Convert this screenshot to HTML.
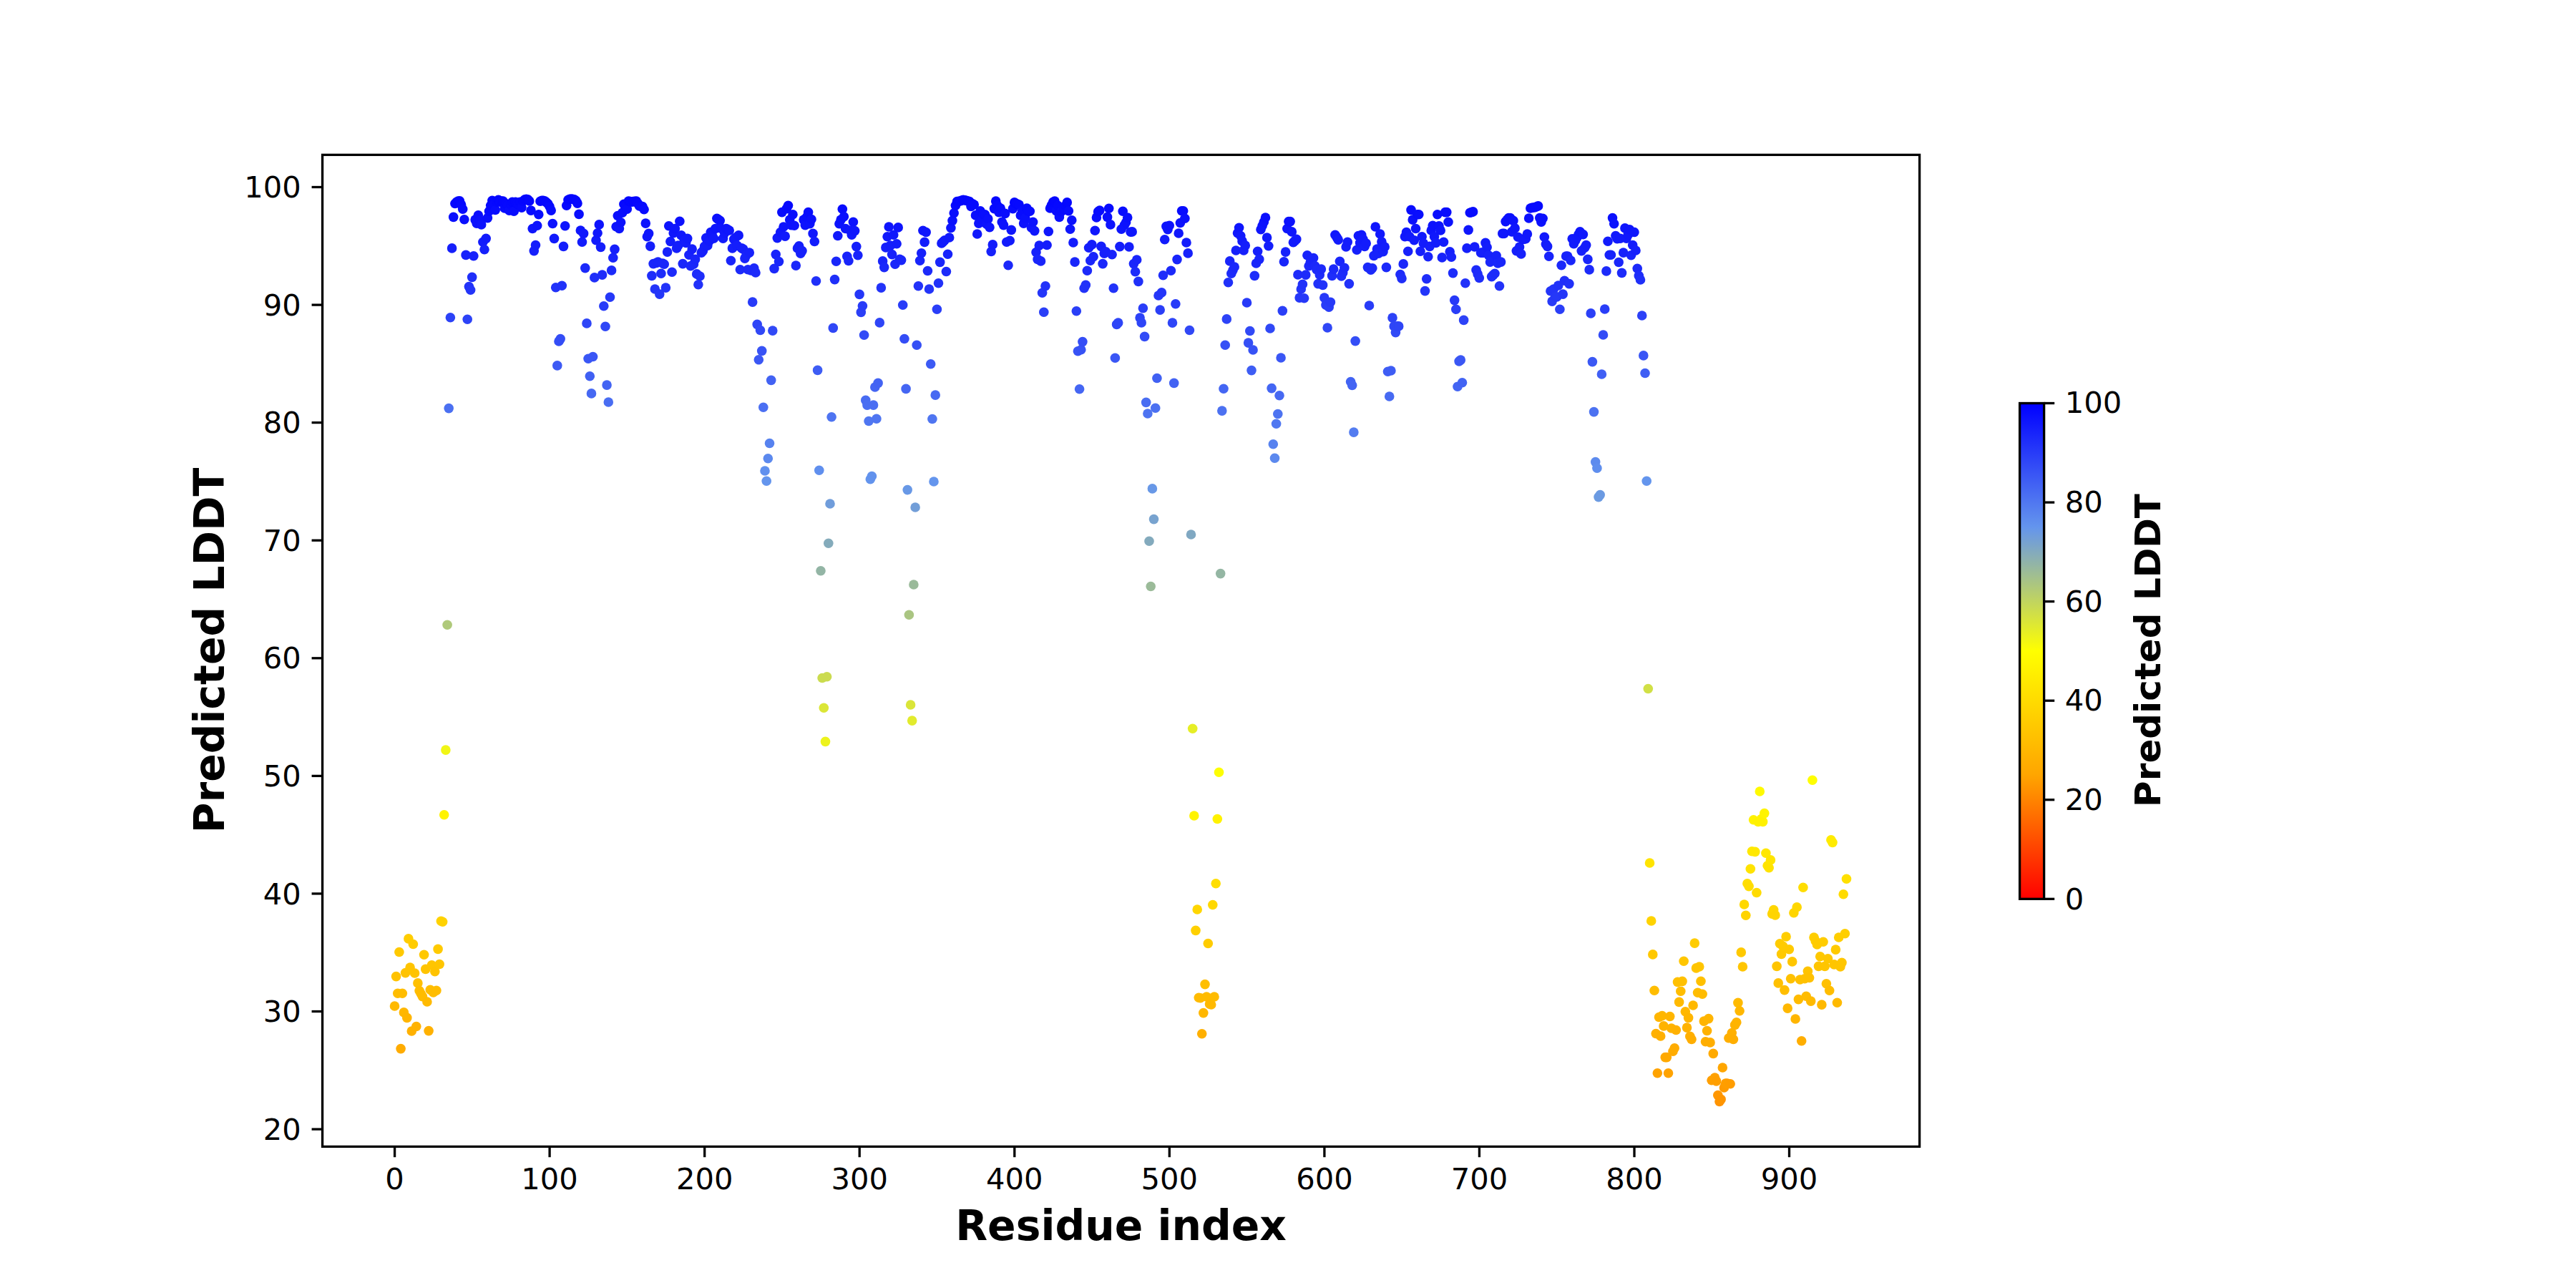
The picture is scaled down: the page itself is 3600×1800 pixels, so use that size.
<!DOCTYPE html>
<html><head><meta charset="utf-8"><title>Predicted LDDT</title>
<style>
html,body{margin:0;padding:0;background:#fff;}
body{width:3600px;height:1800px;overflow:hidden;}
svg{display:block;}
text{font-family:"DejaVu Sans","Liberation Sans",sans-serif;fill:#000;}
.t{font-size:41.67px;}
.b{font-weight:bold;}
</style></head><body>
<svg width="3600" height="1800" viewBox="0 0 3600 1800">
<defs><linearGradient id="g" x1="0" y1="1" x2="0" y2="0">
<stop offset="0" stop-color="#ff0000"/><stop offset="0.25" stop-color="#ffa500"/><stop offset="0.5" stop-color="#ffff00"/><stop offset="0.75" stop-color="#6495ed"/><stop offset="1" stop-color="#0000ff"/>
</linearGradient></defs>
<rect width="3600" height="1800" fill="#fff"/>

<g>
<circle cx="551.5" cy="1406.0" r="6.8" fill="#ffb900"/>
<circle cx="553.6" cy="1364.6" r="6.8" fill="#ffc200"/>
<circle cx="555.8" cy="1388.3" r="6.8" fill="#ffbd00"/>
<circle cx="557.9" cy="1330.5" r="6.8" fill="#ffc900"/>
<circle cx="560.1" cy="1465.6" r="6.8" fill="#ffac00"/>
<circle cx="562.3" cy="1388.3" r="6.8" fill="#ffbd00"/>
<circle cx="564.4" cy="1414.9" r="6.8" fill="#ffb700"/>
<circle cx="566.6" cy="1359.6" r="6.8" fill="#ffc300"/>
<circle cx="568.8" cy="1422.4" r="6.8" fill="#ffb500"/>
<circle cx="570.9" cy="1311.9" r="6.8" fill="#ffcd00"/>
<circle cx="573.1" cy="1352.1" r="6.8" fill="#ffc400"/>
<circle cx="575.3" cy="1441.0" r="6.8" fill="#ffb100"/>
<circle cx="577.4" cy="1319.5" r="6.8" fill="#ffcc00"/>
<circle cx="579.6" cy="1360.0" r="6.8" fill="#ffc300"/>
<circle cx="581.8" cy="1434.5" r="6.8" fill="#ffb200"/>
<circle cx="583.9" cy="1373.9" r="6.8" fill="#ffc000"/>
<circle cx="586.1" cy="1384.6" r="6.8" fill="#ffbd00"/>
<circle cx="588.3" cy="1388.8" r="6.8" fill="#ffbc00"/>
<circle cx="590.4" cy="1392.6" r="6.8" fill="#ffbc00"/>
<circle cx="592.6" cy="1334.2" r="6.8" fill="#ffc800"/>
<circle cx="594.8" cy="1354.4" r="6.8" fill="#ffc400"/>
<circle cx="596.9" cy="1400.0" r="6.8" fill="#ffba00"/>
<circle cx="599.1" cy="1440.6" r="6.8" fill="#ffb100"/>
<circle cx="601.3" cy="1383.2" r="6.8" fill="#ffbe00"/>
<circle cx="603.4" cy="1348.8" r="6.8" fill="#ffc500"/>
<circle cx="605.6" cy="1387.0" r="6.8" fill="#ffbd00"/>
<circle cx="607.8" cy="1357.7" r="6.8" fill="#ffc300"/>
<circle cx="609.9" cy="1384.2" r="6.8" fill="#ffbd00"/>
<circle cx="612.1" cy="1326.4" r="6.8" fill="#ffca00"/>
<circle cx="614.2" cy="1347.5" r="6.8" fill="#ffc500"/>
<circle cx="616.4" cy="1287.3" r="6.8" fill="#ffd300"/>
<circle cx="618.6" cy="1288.2" r="6.8" fill="#ffd200"/>
<circle cx="620.7" cy="1138.8" r="6.8" fill="#fff300"/>
<circle cx="622.9" cy="1048.1" r="6.8" fill="#f1f615"/>
<circle cx="625.1" cy="873.2" r="6.8" fill="#afc97a"/>
<circle cx="627.2" cy="570.6" r="6.8" fill="#4b70f1"/>
<circle cx="629.4" cy="443.7" r="6.8" fill="#2c42f7"/>
<circle cx="631.6" cy="346.9" r="6.8" fill="#151ffb"/>
<circle cx="633.7" cy="303.4" r="6.8" fill="#0a0ffd"/>
<circle cx="635.9" cy="284.5" r="6.8" fill="#0608fe"/>
<circle cx="638.1" cy="282.3" r="6.8" fill="#0508fe"/>
<circle cx="640.2" cy="281.0" r="6.8" fill="#0507fe"/>
<circle cx="642.4" cy="280.8" r="6.8" fill="#0507fe"/>
<circle cx="644.6" cy="286.0" r="6.8" fill="#0609fe"/>
<circle cx="646.7" cy="292.2" r="6.8" fill="#070bfe"/>
<circle cx="648.9" cy="306.7" r="6.8" fill="#0b10fd"/>
<circle cx="651.1" cy="356.4" r="6.8" fill="#1722fb"/>
<circle cx="653.2" cy="446.3" r="6.8" fill="#2d43f7"/>
<circle cx="655.4" cy="400.6" r="6.8" fill="#2232f9"/>
<circle cx="657.6" cy="405.2" r="6.8" fill="#2334f9"/>
<circle cx="659.7" cy="387.4" r="6.8" fill="#1f2ef9"/>
<circle cx="661.9" cy="357.8" r="6.8" fill="#1723fb"/>
<circle cx="664.1" cy="307.1" r="6.8" fill="#0b11fd"/>
<circle cx="666.2" cy="312.1" r="6.8" fill="#0c12fd"/>
<circle cx="668.4" cy="300.9" r="6.8" fill="#0a0efd"/>
<circle cx="670.6" cy="308.4" r="6.8" fill="#0b11fd"/>
<circle cx="672.7" cy="313.9" r="6.8" fill="#0d13fd"/>
<circle cx="674.9" cy="338.2" r="6.8" fill="#131cfc"/>
<circle cx="677.0" cy="348.7" r="6.8" fill="#1520fb"/>
<circle cx="679.2" cy="333.4" r="6.8" fill="#111afc"/>
<circle cx="681.4" cy="304.6" r="6.8" fill="#0a10fd"/>
<circle cx="683.5" cy="295.3" r="6.8" fill="#080cfe"/>
<circle cx="685.7" cy="287.2" r="6.8" fill="#0609fe"/>
<circle cx="687.9" cy="280.4" r="6.8" fill="#0507fe"/>
<circle cx="690.0" cy="286.0" r="6.8" fill="#0609fe"/>
<circle cx="692.2" cy="293.4" r="6.8" fill="#080cfe"/>
<circle cx="694.4" cy="282.3" r="6.8" fill="#0508fe"/>
<circle cx="696.5" cy="279.2" r="6.8" fill="#0406fe"/>
<circle cx="698.7" cy="282.3" r="6.8" fill="#0508fe"/>
<circle cx="700.9" cy="281.0" r="6.8" fill="#0507fe"/>
<circle cx="703.0" cy="281.0" r="6.8" fill="#0507fe"/>
<circle cx="705.2" cy="291.0" r="6.8" fill="#070bfe"/>
<circle cx="707.4" cy="284.8" r="6.8" fill="#0608fe"/>
<circle cx="709.5" cy="287.2" r="6.8" fill="#0609fe"/>
<circle cx="711.7" cy="294.1" r="6.8" fill="#080cfe"/>
<circle cx="713.9" cy="286.0" r="6.8" fill="#0609fe"/>
<circle cx="716.0" cy="282.3" r="6.8" fill="#0508fe"/>
<circle cx="718.2" cy="295.3" r="6.8" fill="#080cfe"/>
<circle cx="720.4" cy="282.3" r="6.8" fill="#0508fe"/>
<circle cx="722.5" cy="284.8" r="6.8" fill="#0608fe"/>
<circle cx="724.7" cy="286.0" r="6.8" fill="#0609fe"/>
<circle cx="726.9" cy="282.3" r="6.8" fill="#0508fe"/>
<circle cx="729.0" cy="290.3" r="6.8" fill="#070afe"/>
<circle cx="731.2" cy="281.0" r="6.8" fill="#0507fe"/>
<circle cx="733.4" cy="278.8" r="6.8" fill="#0406fe"/>
<circle cx="735.5" cy="278.3" r="6.8" fill="#0406fe"/>
<circle cx="737.7" cy="278.8" r="6.8" fill="#0406fe"/>
<circle cx="739.8" cy="281.0" r="6.8" fill="#0507fe"/>
<circle cx="742.0" cy="294.1" r="6.8" fill="#080cfe"/>
<circle cx="744.2" cy="319.5" r="6.8" fill="#0e15fc"/>
<circle cx="746.3" cy="350.6" r="6.8" fill="#1620fb"/>
<circle cx="748.5" cy="342.5" r="6.8" fill="#141dfb"/>
<circle cx="750.7" cy="315.2" r="6.8" fill="#0d13fd"/>
<circle cx="752.8" cy="299.7" r="6.8" fill="#090efd"/>
<circle cx="755.0" cy="281.3" r="6.8" fill="#0507fe"/>
<circle cx="757.2" cy="280.4" r="6.8" fill="#0507fe"/>
<circle cx="759.3" cy="280.4" r="6.8" fill="#0507fe"/>
<circle cx="761.5" cy="281.0" r="6.8" fill="#0507fe"/>
<circle cx="763.7" cy="282.9" r="6.8" fill="#0508fe"/>
<circle cx="765.8" cy="284.8" r="6.8" fill="#0608fe"/>
<circle cx="768.0" cy="288.5" r="6.8" fill="#070afe"/>
<circle cx="770.2" cy="294.1" r="6.8" fill="#080cfe"/>
<circle cx="772.3" cy="312.5" r="6.8" fill="#0c12fd"/>
<circle cx="774.5" cy="333.4" r="6.8" fill="#111afc"/>
<circle cx="776.7" cy="401.8" r="6.8" fill="#2233f9"/>
<circle cx="778.8" cy="510.9" r="6.8" fill="#3d5af4"/>
<circle cx="781.0" cy="477.0" r="6.8" fill="#344ef6"/>
<circle cx="783.2" cy="473.6" r="6.8" fill="#344df6"/>
<circle cx="785.3" cy="399.3" r="6.8" fill="#2132f9"/>
<circle cx="787.5" cy="344.4" r="6.8" fill="#141efb"/>
<circle cx="789.7" cy="315.8" r="6.8" fill="#0d14fd"/>
<circle cx="791.8" cy="287.2" r="6.8" fill="#0609fe"/>
<circle cx="794.0" cy="279.2" r="6.8" fill="#0406fe"/>
<circle cx="796.2" cy="278.3" r="6.8" fill="#0406fe"/>
<circle cx="798.3" cy="278.0" r="6.8" fill="#0406fe"/>
<circle cx="800.5" cy="278.3" r="6.8" fill="#0406fe"/>
<circle cx="802.6" cy="278.8" r="6.8" fill="#0406fe"/>
<circle cx="804.8" cy="280.4" r="6.8" fill="#0507fe"/>
<circle cx="807.0" cy="284.1" r="6.8" fill="#0508fe"/>
<circle cx="809.1" cy="299.4" r="6.8" fill="#090efd"/>
<circle cx="811.3" cy="322.0" r="6.8" fill="#0f16fc"/>
<circle cx="813.5" cy="338.2" r="6.8" fill="#131cfc"/>
<circle cx="815.6" cy="326.4" r="6.8" fill="#1018fc"/>
<circle cx="817.8" cy="374.6" r="6.8" fill="#1b29fa"/>
<circle cx="820.0" cy="451.9" r="6.8" fill="#2e45f7"/>
<circle cx="822.1" cy="501.2" r="6.8" fill="#3a57f5"/>
<circle cx="824.3" cy="525.7" r="6.8" fill="#4060f3"/>
<circle cx="826.5" cy="549.9" r="6.8" fill="#4668f2"/>
<circle cx="828.6" cy="498.5" r="6.8" fill="#3a56f5"/>
<circle cx="830.8" cy="387.9" r="6.8" fill="#1f2ef9"/>
<circle cx="833.0" cy="335.7" r="6.8" fill="#121bfc"/>
<circle cx="835.1" cy="325.7" r="6.8" fill="#1017fc"/>
<circle cx="837.3" cy="313.9" r="6.8" fill="#0d13fd"/>
<circle cx="839.5" cy="345.4" r="6.8" fill="#141efb"/>
<circle cx="841.6" cy="384.1" r="6.8" fill="#1e2cfa"/>
<circle cx="843.8" cy="427.7" r="6.8" fill="#283cf8"/>
<circle cx="846.0" cy="456.2" r="6.8" fill="#2f47f6"/>
<circle cx="848.1" cy="538.1" r="6.8" fill="#4364f3"/>
<circle cx="850.3" cy="562.0" r="6.8" fill="#496df2"/>
<circle cx="852.5" cy="415.2" r="6.8" fill="#2538f8"/>
<circle cx="854.6" cy="377.9" r="6.8" fill="#1c2afa"/>
<circle cx="856.8" cy="360.3" r="6.8" fill="#1824fb"/>
<circle cx="859.0" cy="348.4" r="6.8" fill="#151ffb"/>
<circle cx="861.1" cy="316.8" r="6.8" fill="#0d14fd"/>
<circle cx="863.3" cy="301.5" r="6.8" fill="#0a0efd"/>
<circle cx="865.4" cy="319.5" r="6.8" fill="#0e15fc"/>
<circle cx="867.6" cy="310.8" r="6.8" fill="#0c12fd"/>
<circle cx="869.8" cy="297.2" r="6.8" fill="#090dfd"/>
<circle cx="871.9" cy="285.4" r="6.8" fill="#0609fe"/>
<circle cx="874.1" cy="288.8" r="6.8" fill="#070afe"/>
<circle cx="876.3" cy="292.2" r="6.8" fill="#070bfe"/>
<circle cx="878.4" cy="281.0" r="6.8" fill="#0507fe"/>
<circle cx="880.6" cy="281.6" r="6.8" fill="#0507fe"/>
<circle cx="882.8" cy="282.3" r="6.8" fill="#0508fe"/>
<circle cx="884.9" cy="281.6" r="6.8" fill="#0507fe"/>
<circle cx="887.1" cy="281.3" r="6.8" fill="#0507fe"/>
<circle cx="889.3" cy="281.0" r="6.8" fill="#0507fe"/>
<circle cx="891.4" cy="284.4" r="6.8" fill="#0608fe"/>
<circle cx="893.6" cy="287.9" r="6.8" fill="#060afe"/>
<circle cx="895.8" cy="288.2" r="6.8" fill="#060afe"/>
<circle cx="897.9" cy="288.5" r="6.8" fill="#070afe"/>
<circle cx="900.1" cy="292.8" r="6.8" fill="#080bfe"/>
<circle cx="902.3" cy="312.1" r="6.8" fill="#0c12fd"/>
<circle cx="904.4" cy="330.7" r="6.8" fill="#1119fc"/>
<circle cx="906.6" cy="326.4" r="6.8" fill="#1017fc"/>
<circle cx="908.8" cy="344.1" r="6.8" fill="#141efb"/>
<circle cx="910.9" cy="385.4" r="6.8" fill="#1e2dfa"/>
<circle cx="913.1" cy="368.6" r="6.8" fill="#1a27fa"/>
<circle cx="915.3" cy="404.0" r="6.8" fill="#2334f9"/>
<circle cx="917.4" cy="367.4" r="6.8" fill="#1a26fa"/>
<circle cx="919.6" cy="366.1" r="6.8" fill="#1926fa"/>
<circle cx="921.8" cy="411.1" r="6.8" fill="#2436f8"/>
<circle cx="923.9" cy="382.3" r="6.8" fill="#1d2cfa"/>
<circle cx="926.1" cy="368.0" r="6.8" fill="#1a27fa"/>
<circle cx="928.2" cy="369.2" r="6.8" fill="#1a27fa"/>
<circle cx="930.4" cy="402.1" r="6.8" fill="#2233f9"/>
<circle cx="932.6" cy="352.1" r="6.8" fill="#1621fb"/>
<circle cx="934.7" cy="315.8" r="6.8" fill="#0d14fd"/>
<circle cx="936.9" cy="337.5" r="6.8" fill="#121cfc"/>
<circle cx="939.1" cy="380.2" r="6.8" fill="#1d2bfa"/>
<circle cx="941.2" cy="325.7" r="6.8" fill="#1017fc"/>
<circle cx="943.4" cy="319.5" r="6.8" fill="#0e15fc"/>
<circle cx="945.6" cy="346.9" r="6.8" fill="#151ffb"/>
<circle cx="947.7" cy="343.1" r="6.8" fill="#141efb"/>
<circle cx="949.9" cy="309.2" r="6.8" fill="#0c11fd"/>
<circle cx="952.1" cy="328.9" r="6.8" fill="#1018fc"/>
<circle cx="954.2" cy="368.6" r="6.8" fill="#1a27fa"/>
<circle cx="956.4" cy="336.3" r="6.8" fill="#121bfc"/>
<circle cx="958.6" cy="339.4" r="6.8" fill="#131cfc"/>
<circle cx="960.7" cy="333.4" r="6.8" fill="#111afc"/>
<circle cx="962.9" cy="356.2" r="6.8" fill="#1722fb"/>
<circle cx="965.1" cy="371.7" r="6.8" fill="#1b28fa"/>
<circle cx="967.2" cy="348.1" r="6.8" fill="#151ffb"/>
<circle cx="969.4" cy="369.2" r="6.8" fill="#1a27fa"/>
<circle cx="971.6" cy="362.4" r="6.8" fill="#1925fb"/>
<circle cx="973.7" cy="382.9" r="6.8" fill="#1e2cfa"/>
<circle cx="975.9" cy="397.8" r="6.8" fill="#2131f9"/>
<circle cx="978.1" cy="386.0" r="6.8" fill="#1e2dfa"/>
<circle cx="980.2" cy="353.1" r="6.8" fill="#1621fb"/>
<circle cx="982.4" cy="350.6" r="6.8" fill="#1620fb"/>
<circle cx="984.6" cy="344.4" r="6.8" fill="#141efb"/>
<circle cx="986.7" cy="332.6" r="6.8" fill="#111afc"/>
<circle cx="988.9" cy="343.1" r="6.8" fill="#141efb"/>
<circle cx="991.0" cy="336.9" r="6.8" fill="#121bfc"/>
<circle cx="993.2" cy="324.5" r="6.8" fill="#0f17fc"/>
<circle cx="995.4" cy="328.9" r="6.8" fill="#1018fc"/>
<circle cx="997.5" cy="333.2" r="6.8" fill="#111afc"/>
<circle cx="999.7" cy="319.5" r="6.8" fill="#0e15fc"/>
<circle cx="1001.9" cy="305.2" r="6.8" fill="#0b10fd"/>
<circle cx="1004.0" cy="306.8" r="6.8" fill="#0b10fd"/>
<circle cx="1006.2" cy="308.4" r="6.8" fill="#0b11fd"/>
<circle cx="1008.4" cy="319.5" r="6.8" fill="#0e15fc"/>
<circle cx="1010.5" cy="333.2" r="6.8" fill="#111afc"/>
<circle cx="1012.7" cy="325.7" r="6.8" fill="#1017fc"/>
<circle cx="1014.9" cy="319.5" r="6.8" fill="#0e15fc"/>
<circle cx="1017.0" cy="320.8" r="6.8" fill="#0e15fc"/>
<circle cx="1019.2" cy="322.0" r="6.8" fill="#0f16fc"/>
<circle cx="1021.4" cy="364.3" r="6.8" fill="#1925fb"/>
<circle cx="1023.5" cy="346.9" r="6.8" fill="#151ffb"/>
<circle cx="1025.7" cy="334.4" r="6.8" fill="#121afc"/>
<circle cx="1027.9" cy="332.0" r="6.8" fill="#111afc"/>
<circle cx="1030.0" cy="343.1" r="6.8" fill="#141efb"/>
<circle cx="1032.2" cy="328.9" r="6.8" fill="#1018fc"/>
<circle cx="1034.4" cy="376.7" r="6.8" fill="#1c2afa"/>
<circle cx="1036.5" cy="346.9" r="6.8" fill="#151ffb"/>
<circle cx="1038.7" cy="348.1" r="6.8" fill="#151ffb"/>
<circle cx="1040.9" cy="361.1" r="6.8" fill="#1824fb"/>
<circle cx="1043.0" cy="356.8" r="6.8" fill="#1723fb"/>
<circle cx="1045.2" cy="376.7" r="6.8" fill="#1c2afa"/>
<circle cx="1047.3" cy="353.1" r="6.8" fill="#1621fb"/>
<circle cx="1049.5" cy="377.9" r="6.8" fill="#1c2afa"/>
<circle cx="1051.7" cy="422.1" r="6.8" fill="#273af8"/>
<circle cx="1053.8" cy="374.8" r="6.8" fill="#1c29fa"/>
<circle cx="1056.0" cy="381.0" r="6.8" fill="#1d2bfa"/>
<circle cx="1058.2" cy="453.4" r="6.8" fill="#2f45f7"/>
<circle cx="1060.3" cy="502.8" r="6.8" fill="#3b57f4"/>
<circle cx="1062.5" cy="461.5" r="6.8" fill="#3148f6"/>
<circle cx="1064.7" cy="490.4" r="6.8" fill="#3853f5"/>
<circle cx="1066.8" cy="569.3" r="6.8" fill="#4b6ff2"/>
<circle cx="1069.0" cy="658.0" r="6.8" fill="#6090ee"/>
<circle cx="1071.2" cy="672.2" r="6.8" fill="#6495ed"/>
<circle cx="1073.3" cy="640.7" r="6.8" fill="#5c89ee"/>
<circle cx="1075.5" cy="619.5" r="6.8" fill="#5782ef"/>
<circle cx="1077.7" cy="531.4" r="6.8" fill="#4262f3"/>
<circle cx="1079.8" cy="462.1" r="6.8" fill="#3149f6"/>
<circle cx="1082.0" cy="375.4" r="6.8" fill="#1c29fa"/>
<circle cx="1084.2" cy="355.6" r="6.8" fill="#1722fb"/>
<circle cx="1086.3" cy="332.6" r="6.8" fill="#111afc"/>
<circle cx="1088.5" cy="365.5" r="6.8" fill="#1926fa"/>
<circle cx="1090.7" cy="324.5" r="6.8" fill="#0f17fc"/>
<circle cx="1092.8" cy="296.6" r="6.8" fill="#090dfd"/>
<circle cx="1095.0" cy="317.0" r="6.8" fill="#0e14fd"/>
<circle cx="1097.2" cy="330.1" r="6.8" fill="#1119fc"/>
<circle cx="1099.3" cy="291.6" r="6.8" fill="#070bfe"/>
<circle cx="1101.5" cy="287.2" r="6.8" fill="#0609fe"/>
<circle cx="1103.7" cy="307.1" r="6.8" fill="#0b11fd"/>
<circle cx="1105.8" cy="314.6" r="6.8" fill="#0d13fd"/>
<circle cx="1108.0" cy="299.7" r="6.8" fill="#090efd"/>
<circle cx="1110.1" cy="315.2" r="6.8" fill="#0d13fd"/>
<circle cx="1112.3" cy="371.1" r="6.8" fill="#1b28fa"/>
<circle cx="1114.5" cy="346.9" r="6.8" fill="#151ffb"/>
<circle cx="1116.6" cy="343.8" r="6.8" fill="#141efb"/>
<circle cx="1118.8" cy="354.3" r="6.8" fill="#1722fb"/>
<circle cx="1121.0" cy="350.6" r="6.8" fill="#1620fb"/>
<circle cx="1123.1" cy="307.1" r="6.8" fill="#0b11fd"/>
<circle cx="1125.3" cy="314.6" r="6.8" fill="#0d13fd"/>
<circle cx="1127.5" cy="303.4" r="6.8" fill="#0a0ffd"/>
<circle cx="1129.6" cy="296.6" r="6.8" fill="#090dfd"/>
<circle cx="1131.8" cy="312.7" r="6.8" fill="#0c13fd"/>
<circle cx="1134.0" cy="306.5" r="6.8" fill="#0b10fd"/>
<circle cx="1136.1" cy="326.4" r="6.8" fill="#1017fc"/>
<circle cx="1138.3" cy="337.5" r="6.8" fill="#121cfc"/>
<circle cx="1140.5" cy="392.8" r="6.8" fill="#2030f9"/>
<circle cx="1142.6" cy="517.4" r="6.8" fill="#3e5df4"/>
<circle cx="1144.8" cy="657.3" r="6.8" fill="#608fee"/>
<circle cx="1147.0" cy="797.7" r="6.8" fill="#93b5a5"/>
<circle cx="1149.1" cy="947.5" r="6.8" fill="#cbdc4f"/>
<circle cx="1151.3" cy="989.2" r="6.8" fill="#dbe637"/>
<circle cx="1153.5" cy="1036.4" r="6.8" fill="#edf31c"/>
<circle cx="1155.6" cy="945.7" r="6.8" fill="#cbdb50"/>
<circle cx="1157.8" cy="759.2" r="6.8" fill="#84abbb"/>
<circle cx="1160.0" cy="704.0" r="6.8" fill="#709ddb"/>
<circle cx="1162.1" cy="582.8" r="6.8" fill="#4e74f1"/>
<circle cx="1164.3" cy="458.4" r="6.8" fill="#3047f6"/>
<circle cx="1166.5" cy="390.6" r="6.8" fill="#1f2ff9"/>
<circle cx="1168.6" cy="365.2" r="6.8" fill="#1926fa"/>
<circle cx="1170.8" cy="329.5" r="6.8" fill="#1119fc"/>
<circle cx="1172.9" cy="312.7" r="6.8" fill="#0c13fd"/>
<circle cx="1175.1" cy="307.1" r="6.8" fill="#0b11fd"/>
<circle cx="1177.3" cy="292.2" r="6.8" fill="#070bfe"/>
<circle cx="1179.4" cy="302.8" r="6.8" fill="#0a0ffd"/>
<circle cx="1181.6" cy="319.5" r="6.8" fill="#0e15fc"/>
<circle cx="1183.8" cy="358.3" r="6.8" fill="#1823fb"/>
<circle cx="1185.9" cy="364.5" r="6.8" fill="#1925fa"/>
<circle cx="1188.1" cy="322.0" r="6.8" fill="#0f16fc"/>
<circle cx="1190.3" cy="328.2" r="6.8" fill="#1018fc"/>
<circle cx="1192.4" cy="310.2" r="6.8" fill="#0c12fd"/>
<circle cx="1194.6" cy="322.6" r="6.8" fill="#0f16fc"/>
<circle cx="1196.8" cy="344.6" r="6.8" fill="#141efb"/>
<circle cx="1198.9" cy="356.8" r="6.8" fill="#1723fb"/>
<circle cx="1201.1" cy="411.4" r="6.8" fill="#2436f8"/>
<circle cx="1203.3" cy="436.4" r="6.8" fill="#2b3ff7"/>
<circle cx="1205.4" cy="427.5" r="6.8" fill="#283cf8"/>
<circle cx="1207.6" cy="468.3" r="6.8" fill="#324bf6"/>
<circle cx="1209.8" cy="559.4" r="6.8" fill="#486cf2"/>
<circle cx="1211.9" cy="566.1" r="6.8" fill="#4a6ef2"/>
<circle cx="1214.1" cy="588.5" r="6.8" fill="#4f76f1"/>
<circle cx="1216.3" cy="669.7" r="6.8" fill="#6394ed"/>
<circle cx="1218.4" cy="665.5" r="6.8" fill="#6292ed"/>
<circle cx="1220.6" cy="566.1" r="6.8" fill="#4a6ef2"/>
<circle cx="1222.8" cy="541.0" r="6.8" fill="#4465f3"/>
<circle cx="1224.9" cy="585.2" r="6.8" fill="#4f75f1"/>
<circle cx="1227.1" cy="535.4" r="6.8" fill="#4363f3"/>
<circle cx="1229.3" cy="450.9" r="6.8" fill="#2e45f7"/>
<circle cx="1231.4" cy="402.1" r="6.8" fill="#2233f9"/>
<circle cx="1233.6" cy="364.9" r="6.8" fill="#1925fa"/>
<circle cx="1235.7" cy="373.6" r="6.8" fill="#1b29fa"/>
<circle cx="1237.9" cy="345.9" r="6.8" fill="#151ffb"/>
<circle cx="1240.1" cy="330.7" r="6.8" fill="#1119fc"/>
<circle cx="1242.2" cy="317.0" r="6.8" fill="#0e14fd"/>
<circle cx="1244.4" cy="343.1" r="6.8" fill="#141efb"/>
<circle cx="1246.6" cy="355.6" r="6.8" fill="#1722fb"/>
<circle cx="1248.7" cy="328.2" r="6.8" fill="#1018fc"/>
<circle cx="1250.9" cy="369.2" r="6.8" fill="#1a27fa"/>
<circle cx="1253.1" cy="340.7" r="6.8" fill="#131dfc"/>
<circle cx="1255.2" cy="317.9" r="6.8" fill="#0e14fd"/>
<circle cx="1257.4" cy="362.4" r="6.8" fill="#1925fb"/>
<circle cx="1259.6" cy="363.6" r="6.8" fill="#1925fb"/>
<circle cx="1261.7" cy="426.3" r="6.8" fill="#283cf8"/>
<circle cx="1263.9" cy="473.5" r="6.8" fill="#344df6"/>
<circle cx="1266.1" cy="543.4" r="6.8" fill="#4566f3"/>
<circle cx="1268.2" cy="684.6" r="6.8" fill="#6898e6"/>
<circle cx="1270.4" cy="859.3" r="6.8" fill="#aac582"/>
<circle cx="1272.6" cy="985.0" r="6.8" fill="#dae539"/>
<circle cx="1274.7" cy="1007.1" r="6.8" fill="#e2eb2d"/>
<circle cx="1276.9" cy="817.0" r="6.8" fill="#9aba9a"/>
<circle cx="1279.1" cy="709.0" r="6.8" fill="#729ed8"/>
<circle cx="1281.2" cy="482.2" r="6.8" fill="#3650f5"/>
<circle cx="1283.4" cy="399.7" r="6.8" fill="#2232f9"/>
<circle cx="1285.6" cy="364.3" r="6.8" fill="#1925fb"/>
<circle cx="1287.7" cy="353.7" r="6.8" fill="#1621fb"/>
<circle cx="1289.9" cy="322.3" r="6.8" fill="#0f16fc"/>
<circle cx="1292.1" cy="338.4" r="6.8" fill="#131cfc"/>
<circle cx="1294.2" cy="324.5" r="6.8" fill="#0f17fc"/>
<circle cx="1296.4" cy="378.5" r="6.8" fill="#1c2afa"/>
<circle cx="1298.5" cy="404.0" r="6.8" fill="#2334f9"/>
<circle cx="1300.7" cy="508.7" r="6.8" fill="#3c5af4"/>
<circle cx="1302.9" cy="585.5" r="6.8" fill="#4f75f1"/>
<circle cx="1305.0" cy="673.0" r="6.8" fill="#6495ed"/>
<circle cx="1307.2" cy="552.1" r="6.8" fill="#4769f2"/>
<circle cx="1309.4" cy="432.3" r="6.8" fill="#2a3ef8"/>
<circle cx="1311.5" cy="395.7" r="6.8" fill="#2131f9"/>
<circle cx="1313.7" cy="366.4" r="6.8" fill="#1926fa"/>
<circle cx="1315.9" cy="340.0" r="6.8" fill="#131cfc"/>
<circle cx="1318.0" cy="337.9" r="6.8" fill="#131cfc"/>
<circle cx="1320.2" cy="335.7" r="6.8" fill="#121bfc"/>
<circle cx="1322.4" cy="379.5" r="6.8" fill="#1d2bfa"/>
<circle cx="1324.5" cy="355.3" r="6.8" fill="#1722fb"/>
<circle cx="1326.7" cy="332.0" r="6.8" fill="#111afc"/>
<circle cx="1328.9" cy="318.5" r="6.8" fill="#0e15fd"/>
<circle cx="1331.0" cy="308.4" r="6.8" fill="#0b11fd"/>
<circle cx="1333.2" cy="297.8" r="6.8" fill="#090dfd"/>
<circle cx="1335.4" cy="287.2" r="6.8" fill="#0609fe"/>
<circle cx="1337.5" cy="281.6" r="6.8" fill="#0507fe"/>
<circle cx="1339.7" cy="281.3" r="6.8" fill="#0507fe"/>
<circle cx="1341.9" cy="281.0" r="6.8" fill="#0507fe"/>
<circle cx="1344.0" cy="280.1" r="6.8" fill="#0507fe"/>
<circle cx="1346.2" cy="279.2" r="6.8" fill="#0406fe"/>
<circle cx="1348.4" cy="279.8" r="6.8" fill="#0407fe"/>
<circle cx="1350.5" cy="280.4" r="6.8" fill="#0507fe"/>
<circle cx="1352.7" cy="281.0" r="6.8" fill="#0507fe"/>
<circle cx="1354.9" cy="281.6" r="6.8" fill="#0507fe"/>
<circle cx="1357.0" cy="288.5" r="6.8" fill="#070afe"/>
<circle cx="1359.2" cy="284.8" r="6.8" fill="#0608fe"/>
<circle cx="1361.3" cy="286.0" r="6.8" fill="#0609fe"/>
<circle cx="1363.5" cy="300.9" r="6.8" fill="#0a0efd"/>
<circle cx="1365.7" cy="327.0" r="6.8" fill="#1018fc"/>
<circle cx="1367.8" cy="312.1" r="6.8" fill="#0c12fd"/>
<circle cx="1370.0" cy="294.7" r="6.8" fill="#080cfe"/>
<circle cx="1372.2" cy="307.1" r="6.8" fill="#0b11fd"/>
<circle cx="1374.3" cy="299.7" r="6.8" fill="#090efd"/>
<circle cx="1376.5" cy="299.7" r="6.8" fill="#090efd"/>
<circle cx="1378.7" cy="313.3" r="6.8" fill="#0d13fd"/>
<circle cx="1380.8" cy="305.9" r="6.8" fill="#0b10fd"/>
<circle cx="1383.0" cy="317.7" r="6.8" fill="#0e14fd"/>
<circle cx="1385.2" cy="351.5" r="6.8" fill="#1621fb"/>
<circle cx="1387.3" cy="341.9" r="6.8" fill="#141dfb"/>
<circle cx="1389.5" cy="291.6" r="6.8" fill="#070bfe"/>
<circle cx="1391.7" cy="281.0" r="6.8" fill="#0507fe"/>
<circle cx="1393.8" cy="287.2" r="6.8" fill="#0609fe"/>
<circle cx="1396.0" cy="296.6" r="6.8" fill="#090dfd"/>
<circle cx="1398.2" cy="291.0" r="6.8" fill="#070bfe"/>
<circle cx="1400.3" cy="310.2" r="6.8" fill="#0c12fd"/>
<circle cx="1402.5" cy="314.6" r="6.8" fill="#0d13fd"/>
<circle cx="1404.7" cy="298.4" r="6.8" fill="#090dfd"/>
<circle cx="1406.8" cy="338.2" r="6.8" fill="#131cfc"/>
<circle cx="1409.0" cy="370.8" r="6.8" fill="#1b28fa"/>
<circle cx="1411.2" cy="336.3" r="6.8" fill="#121bfc"/>
<circle cx="1413.3" cy="321.4" r="6.8" fill="#0f16fc"/>
<circle cx="1415.5" cy="291.6" r="6.8" fill="#070bfe"/>
<circle cx="1417.7" cy="282.9" r="6.8" fill="#0508fe"/>
<circle cx="1419.8" cy="284.4" r="6.8" fill="#0608fe"/>
<circle cx="1422.0" cy="285.2" r="6.8" fill="#0609fe"/>
<circle cx="1424.1" cy="286.0" r="6.8" fill="#0609fe"/>
<circle cx="1426.3" cy="300.9" r="6.8" fill="#0a0efd"/>
<circle cx="1428.5" cy="294.7" r="6.8" fill="#080cfe"/>
<circle cx="1430.6" cy="312.1" r="6.8" fill="#0c12fd"/>
<circle cx="1432.8" cy="304.6" r="6.8" fill="#0a10fd"/>
<circle cx="1435.0" cy="291.0" r="6.8" fill="#070bfe"/>
<circle cx="1437.1" cy="295.3" r="6.8" fill="#080cfe"/>
<circle cx="1439.3" cy="295.3" r="6.8" fill="#080cfe"/>
<circle cx="1441.5" cy="318.3" r="6.8" fill="#0e15fd"/>
<circle cx="1443.6" cy="310.2" r="6.8" fill="#0c12fd"/>
<circle cx="1445.8" cy="322.6" r="6.8" fill="#0f16fc"/>
<circle cx="1448.0" cy="352.5" r="6.8" fill="#1621fb"/>
<circle cx="1450.1" cy="362.4" r="6.8" fill="#1925fb"/>
<circle cx="1452.3" cy="343.1" r="6.8" fill="#141efb"/>
<circle cx="1454.5" cy="364.9" r="6.8" fill="#1925fa"/>
<circle cx="1456.6" cy="409.3" r="6.8" fill="#2436f9"/>
<circle cx="1458.8" cy="436.2" r="6.8" fill="#2a3ff7"/>
<circle cx="1461.0" cy="399.7" r="6.8" fill="#2232f9"/>
<circle cx="1463.1" cy="342.5" r="6.8" fill="#141dfb"/>
<circle cx="1465.3" cy="323.5" r="6.8" fill="#0f16fc"/>
<circle cx="1467.5" cy="291.0" r="6.8" fill="#070bfe"/>
<circle cx="1469.6" cy="286.6" r="6.8" fill="#0609fe"/>
<circle cx="1471.8" cy="282.3" r="6.8" fill="#0508fe"/>
<circle cx="1474.0" cy="281.0" r="6.8" fill="#0507fe"/>
<circle cx="1476.1" cy="294.7" r="6.8" fill="#080cfe"/>
<circle cx="1478.3" cy="287.2" r="6.8" fill="#0609fe"/>
<circle cx="1480.4" cy="303.4" r="6.8" fill="#0a0ffd"/>
<circle cx="1482.6" cy="295.9" r="6.8" fill="#080cfd"/>
<circle cx="1484.8" cy="294.1" r="6.8" fill="#080cfe"/>
<circle cx="1486.9" cy="292.2" r="6.8" fill="#070bfe"/>
<circle cx="1489.1" cy="287.5" r="6.8" fill="#0609fe"/>
<circle cx="1491.3" cy="282.9" r="6.8" fill="#0508fe"/>
<circle cx="1493.4" cy="294.7" r="6.8" fill="#080cfe"/>
<circle cx="1495.6" cy="320.2" r="6.8" fill="#0e15fc"/>
<circle cx="1497.8" cy="307.7" r="6.8" fill="#0b11fd"/>
<circle cx="1499.9" cy="339.0" r="6.8" fill="#131cfc"/>
<circle cx="1502.1" cy="366.1" r="6.8" fill="#1926fa"/>
<circle cx="1504.3" cy="434.8" r="6.8" fill="#2a3ff7"/>
<circle cx="1506.4" cy="490.7" r="6.8" fill="#3853f5"/>
<circle cx="1508.6" cy="543.7" r="6.8" fill="#4566f3"/>
<circle cx="1510.8" cy="488.8" r="6.8" fill="#3752f5"/>
<circle cx="1512.9" cy="477.6" r="6.8" fill="#354ef6"/>
<circle cx="1515.1" cy="402.8" r="6.8" fill="#2233f9"/>
<circle cx="1517.3" cy="398.4" r="6.8" fill="#2132f9"/>
<circle cx="1519.4" cy="378.2" r="6.8" fill="#1c2afa"/>
<circle cx="1521.6" cy="346.2" r="6.8" fill="#151ffb"/>
<circle cx="1523.8" cy="364.3" r="6.8" fill="#1925fb"/>
<circle cx="1525.9" cy="341.9" r="6.8" fill="#141dfb"/>
<circle cx="1528.1" cy="358.7" r="6.8" fill="#1823fb"/>
<circle cx="1530.3" cy="322.3" r="6.8" fill="#0f16fc"/>
<circle cx="1532.4" cy="304.0" r="6.8" fill="#0a0ffd"/>
<circle cx="1534.6" cy="295.9" r="6.8" fill="#080cfd"/>
<circle cx="1536.8" cy="294.1" r="6.8" fill="#080cfe"/>
<circle cx="1538.9" cy="344.4" r="6.8" fill="#141efb"/>
<circle cx="1541.1" cy="368.6" r="6.8" fill="#1a27fa"/>
<circle cx="1543.2" cy="354.3" r="6.8" fill="#1722fb"/>
<circle cx="1545.4" cy="351.8" r="6.8" fill="#1621fb"/>
<circle cx="1547.6" cy="303.4" r="6.8" fill="#0a0ffd"/>
<circle cx="1549.7" cy="291.2" r="6.8" fill="#070bfe"/>
<circle cx="1551.9" cy="313.9" r="6.8" fill="#0d13fd"/>
<circle cx="1554.1" cy="355.8" r="6.8" fill="#1722fb"/>
<circle cx="1556.2" cy="402.8" r="6.8" fill="#2233f9"/>
<circle cx="1558.4" cy="500.3" r="6.8" fill="#3a56f5"/>
<circle cx="1560.6" cy="453.4" r="6.8" fill="#2f45f7"/>
<circle cx="1562.7" cy="451.1" r="6.8" fill="#2e45f7"/>
<circle cx="1564.9" cy="344.6" r="6.8" fill="#141efb"/>
<circle cx="1567.1" cy="320.2" r="6.8" fill="#0e15fc"/>
<circle cx="1569.2" cy="295.3" r="6.8" fill="#080cfe"/>
<circle cx="1571.4" cy="314.6" r="6.8" fill="#0d13fd"/>
<circle cx="1573.6" cy="310.8" r="6.8" fill="#0c12fd"/>
<circle cx="1575.7" cy="304.0" r="6.8" fill="#0a0ffd"/>
<circle cx="1577.9" cy="345.0" r="6.8" fill="#141efb"/>
<circle cx="1580.1" cy="324.3" r="6.8" fill="#0f17fc"/>
<circle cx="1582.2" cy="323.9" r="6.8" fill="#0f17fc"/>
<circle cx="1584.4" cy="368.6" r="6.8" fill="#1a27fa"/>
<circle cx="1586.6" cy="379.8" r="6.8" fill="#1d2bfa"/>
<circle cx="1588.7" cy="363.0" r="6.8" fill="#1925fb"/>
<circle cx="1590.9" cy="393.4" r="6.8" fill="#2030f9"/>
<circle cx="1593.1" cy="444.1" r="6.8" fill="#2c42f7"/>
<circle cx="1595.2" cy="450.9" r="6.8" fill="#2e45f7"/>
<circle cx="1597.4" cy="430.8" r="6.8" fill="#293df8"/>
<circle cx="1599.6" cy="470.4" r="6.8" fill="#334cf6"/>
<circle cx="1601.7" cy="562.4" r="6.8" fill="#496df2"/>
<circle cx="1603.9" cy="578.0" r="6.8" fill="#4d73f1"/>
<circle cx="1606.0" cy="756.2" r="6.8" fill="#83aabd"/>
<circle cx="1608.2" cy="819.5" r="6.8" fill="#9bbb99"/>
<circle cx="1610.4" cy="682.9" r="6.8" fill="#6898e7"/>
<circle cx="1612.5" cy="725.6" r="6.8" fill="#78a3cf"/>
<circle cx="1614.7" cy="570.3" r="6.8" fill="#4b70f1"/>
<circle cx="1616.9" cy="528.5" r="6.8" fill="#4161f3"/>
<circle cx="1619.0" cy="413.0" r="6.8" fill="#2537f8"/>
<circle cx="1621.2" cy="433.1" r="6.8" fill="#2a3ef7"/>
<circle cx="1623.4" cy="408.9" r="6.8" fill="#2435f9"/>
<circle cx="1625.5" cy="384.8" r="6.8" fill="#1e2dfa"/>
<circle cx="1627.7" cy="334.8" r="6.8" fill="#121bfc"/>
<circle cx="1629.9" cy="316.4" r="6.8" fill="#0d14fd"/>
<circle cx="1632.0" cy="320.8" r="6.8" fill="#0e15fc"/>
<circle cx="1634.2" cy="315.2" r="6.8" fill="#0d13fd"/>
<circle cx="1636.4" cy="378.2" r="6.8" fill="#1c2afa"/>
<circle cx="1638.5" cy="451.1" r="6.8" fill="#2e45f7"/>
<circle cx="1640.7" cy="535.4" r="6.8" fill="#4363f3"/>
<circle cx="1642.9" cy="424.8" r="6.8" fill="#283bf8"/>
<circle cx="1645.0" cy="362.6" r="6.8" fill="#1925fb"/>
<circle cx="1647.2" cy="326.0" r="6.8" fill="#1017fc"/>
<circle cx="1649.4" cy="311.5" r="6.8" fill="#0c12fd"/>
<circle cx="1651.5" cy="294.7" r="6.8" fill="#080cfe"/>
<circle cx="1653.7" cy="294.7" r="6.8" fill="#080cfe"/>
<circle cx="1655.9" cy="305.2" r="6.8" fill="#0b10fd"/>
<circle cx="1658.0" cy="339.0" r="6.8" fill="#131cfc"/>
<circle cx="1660.2" cy="353.9" r="6.8" fill="#1621fb"/>
<circle cx="1662.4" cy="461.5" r="6.8" fill="#3148f6"/>
<circle cx="1664.5" cy="747.0" r="6.8" fill="#80a8c2"/>
<circle cx="1666.7" cy="1018.3" r="6.8" fill="#e6ee26"/>
<circle cx="1668.8" cy="1140.0" r="6.8" fill="#fff300"/>
<circle cx="1671.0" cy="1300.4" r="6.8" fill="#ffd000"/>
<circle cx="1673.2" cy="1271.0" r="6.8" fill="#ffd600"/>
<circle cx="1675.3" cy="1394.2" r="6.8" fill="#ffbb00"/>
<circle cx="1677.5" cy="1394.7" r="6.8" fill="#ffbb00"/>
<circle cx="1679.7" cy="1444.7" r="6.8" fill="#ffb000"/>
<circle cx="1681.8" cy="1415.6" r="6.8" fill="#ffb700"/>
<circle cx="1684.0" cy="1375.6" r="6.8" fill="#ffbf00"/>
<circle cx="1686.2" cy="1393.0" r="6.8" fill="#ffbb00"/>
<circle cx="1688.3" cy="1318.5" r="6.8" fill="#ffcc00"/>
<circle cx="1690.5" cy="1403.1" r="6.8" fill="#ffb900"/>
<circle cx="1692.7" cy="1404.0" r="6.8" fill="#ffb900"/>
<circle cx="1694.8" cy="1264.5" r="6.8" fill="#ffd800"/>
<circle cx="1697.0" cy="1393.0" r="6.8" fill="#ffbb00"/>
<circle cx="1699.2" cy="1234.7" r="6.8" fill="#ffde00"/>
<circle cx="1701.3" cy="1144.5" r="6.8" fill="#fff200"/>
<circle cx="1703.5" cy="1079.2" r="6.8" fill="#fdfe03"/>
<circle cx="1705.7" cy="801.6" r="6.8" fill="#94b6a3"/>
<circle cx="1707.8" cy="574.1" r="6.8" fill="#4c71f1"/>
<circle cx="1710.0" cy="543.2" r="6.8" fill="#4466f3"/>
<circle cx="1712.2" cy="482.2" r="6.8" fill="#3650f5"/>
<circle cx="1714.3" cy="445.9" r="6.8" fill="#2d43f7"/>
<circle cx="1716.5" cy="394.7" r="6.8" fill="#2030f9"/>
<circle cx="1718.7" cy="364.9" r="6.8" fill="#1925fa"/>
<circle cx="1720.8" cy="382.3" r="6.8" fill="#1d2cfa"/>
<circle cx="1723.0" cy="377.6" r="6.8" fill="#1c2afa"/>
<circle cx="1725.2" cy="373.0" r="6.8" fill="#1b28fa"/>
<circle cx="1727.3" cy="350.0" r="6.8" fill="#1620fb"/>
<circle cx="1729.5" cy="325.7" r="6.8" fill="#1017fc"/>
<circle cx="1731.6" cy="318.3" r="6.8" fill="#0e15fd"/>
<circle cx="1733.8" cy="329.5" r="6.8" fill="#1119fc"/>
<circle cx="1736.0" cy="336.9" r="6.8" fill="#121bfc"/>
<circle cx="1738.1" cy="350.0" r="6.8" fill="#1620fb"/>
<circle cx="1740.3" cy="343.1" r="6.8" fill="#141efb"/>
<circle cx="1742.5" cy="423.0" r="6.8" fill="#273af8"/>
<circle cx="1744.6" cy="479.1" r="6.8" fill="#354ff5"/>
<circle cx="1746.8" cy="462.5" r="6.8" fill="#3149f6"/>
<circle cx="1749.0" cy="517.6" r="6.8" fill="#3e5df4"/>
<circle cx="1751.1" cy="489.0" r="6.8" fill="#3752f5"/>
<circle cx="1753.3" cy="385.4" r="6.8" fill="#1e2dfa"/>
<circle cx="1755.5" cy="368.0" r="6.8" fill="#1a27fa"/>
<circle cx="1757.6" cy="351.2" r="6.8" fill="#1620fb"/>
<circle cx="1759.8" cy="362.4" r="6.8" fill="#1925fb"/>
<circle cx="1762.0" cy="320.8" r="6.8" fill="#0e15fc"/>
<circle cx="1764.1" cy="315.5" r="6.8" fill="#0d14fd"/>
<circle cx="1766.3" cy="310.2" r="6.8" fill="#0c12fd"/>
<circle cx="1768.5" cy="304.0" r="6.8" fill="#0a0ffd"/>
<circle cx="1770.6" cy="332.0" r="6.8" fill="#111afc"/>
<circle cx="1772.8" cy="343.8" r="6.8" fill="#141efb"/>
<circle cx="1775.0" cy="459.0" r="6.8" fill="#3048f6"/>
<circle cx="1777.1" cy="542.6" r="6.8" fill="#4466f3"/>
<circle cx="1779.3" cy="620.8" r="6.8" fill="#5782ef"/>
<circle cx="1781.5" cy="640.2" r="6.8" fill="#5c89ee"/>
<circle cx="1783.6" cy="592.2" r="6.8" fill="#5078f1"/>
<circle cx="1785.8" cy="578.5" r="6.8" fill="#4d73f1"/>
<circle cx="1788.0" cy="552.8" r="6.8" fill="#4769f2"/>
<circle cx="1790.1" cy="500.0" r="6.8" fill="#3a56f5"/>
<circle cx="1792.3" cy="434.4" r="6.8" fill="#2a3ff7"/>
<circle cx="1794.4" cy="365.7" r="6.8" fill="#1926fa"/>
<circle cx="1796.6" cy="352.1" r="6.8" fill="#1621fb"/>
<circle cx="1798.8" cy="319.5" r="6.8" fill="#0e15fc"/>
<circle cx="1800.9" cy="309.6" r="6.8" fill="#0c11fd"/>
<circle cx="1803.1" cy="309.6" r="6.8" fill="#0c11fd"/>
<circle cx="1805.3" cy="323.9" r="6.8" fill="#0f17fc"/>
<circle cx="1807.4" cy="338.8" r="6.8" fill="#131cfc"/>
<circle cx="1809.6" cy="336.6" r="6.8" fill="#121bfc"/>
<circle cx="1811.8" cy="334.4" r="6.8" fill="#121afc"/>
<circle cx="1813.9" cy="383.9" r="6.8" fill="#1e2cfa"/>
<circle cx="1816.1" cy="416.1" r="6.8" fill="#2638f8"/>
<circle cx="1818.3" cy="404.0" r="6.8" fill="#2334f9"/>
<circle cx="1820.4" cy="397.2" r="6.8" fill="#2131f9"/>
<circle cx="1822.6" cy="416.7" r="6.8" fill="#2638f8"/>
<circle cx="1824.8" cy="384.1" r="6.8" fill="#1e2cfa"/>
<circle cx="1826.9" cy="356.8" r="6.8" fill="#1723fb"/>
<circle cx="1829.1" cy="371.7" r="6.8" fill="#1b28fa"/>
<circle cx="1831.3" cy="366.1" r="6.8" fill="#1926fa"/>
<circle cx="1833.4" cy="363.3" r="6.8" fill="#1925fb"/>
<circle cx="1835.6" cy="360.5" r="6.8" fill="#1824fb"/>
<circle cx="1837.8" cy="371.7" r="6.8" fill="#1b28fa"/>
<circle cx="1839.9" cy="376.7" r="6.8" fill="#1c2afa"/>
<circle cx="1842.1" cy="396.6" r="6.8" fill="#2131f9"/>
<circle cx="1844.3" cy="384.1" r="6.8" fill="#1e2cfa"/>
<circle cx="1846.4" cy="376.1" r="6.8" fill="#1c29fa"/>
<circle cx="1848.6" cy="398.4" r="6.8" fill="#2132f9"/>
<circle cx="1850.8" cy="416.1" r="6.8" fill="#2638f8"/>
<circle cx="1852.9" cy="426.1" r="6.8" fill="#283cf8"/>
<circle cx="1855.1" cy="458.0" r="6.8" fill="#3047f6"/>
<circle cx="1857.2" cy="429.2" r="6.8" fill="#293df8"/>
<circle cx="1859.4" cy="422.3" r="6.8" fill="#273af8"/>
<circle cx="1861.6" cy="385.4" r="6.8" fill="#1e2dfa"/>
<circle cx="1863.7" cy="376.1" r="6.8" fill="#1c29fa"/>
<circle cx="1865.9" cy="328.2" r="6.8" fill="#1018fc"/>
<circle cx="1868.1" cy="331.6" r="6.8" fill="#1119fc"/>
<circle cx="1870.2" cy="335.1" r="6.8" fill="#121bfc"/>
<circle cx="1872.4" cy="365.2" r="6.8" fill="#1926fa"/>
<circle cx="1874.6" cy="386.0" r="6.8" fill="#1e2dfa"/>
<circle cx="1876.7" cy="381.0" r="6.8" fill="#1d2bfa"/>
<circle cx="1878.9" cy="374.2" r="6.8" fill="#1b29fa"/>
<circle cx="1881.1" cy="345.0" r="6.8" fill="#141efb"/>
<circle cx="1883.2" cy="338.2" r="6.8" fill="#131cfc"/>
<circle cx="1885.4" cy="396.6" r="6.8" fill="#2131f9"/>
<circle cx="1887.6" cy="533.5" r="6.8" fill="#4263f3"/>
<circle cx="1889.7" cy="538.5" r="6.8" fill="#4364f3"/>
<circle cx="1891.9" cy="604.1" r="6.8" fill="#537cf0"/>
<circle cx="1894.1" cy="476.6" r="6.8" fill="#344ef6"/>
<circle cx="1896.2" cy="349.3" r="6.8" fill="#1520fb"/>
<circle cx="1898.4" cy="329.5" r="6.8" fill="#1119fc"/>
<circle cx="1900.6" cy="339.4" r="6.8" fill="#131cfc"/>
<circle cx="1902.7" cy="328.2" r="6.8" fill="#1018fc"/>
<circle cx="1904.9" cy="334.4" r="6.8" fill="#121afc"/>
<circle cx="1907.1" cy="344.4" r="6.8" fill="#141efb"/>
<circle cx="1909.2" cy="340.0" r="6.8" fill="#131cfc"/>
<circle cx="1911.4" cy="373.6" r="6.8" fill="#1b29fa"/>
<circle cx="1913.5" cy="427.0" r="6.8" fill="#283cf8"/>
<circle cx="1915.7" cy="377.3" r="6.8" fill="#1c2afa"/>
<circle cx="1917.9" cy="374.8" r="6.8" fill="#1c29fa"/>
<circle cx="1920.0" cy="357.4" r="6.8" fill="#1723fb"/>
<circle cx="1922.2" cy="317.0" r="6.8" fill="#0e14fd"/>
<circle cx="1924.4" cy="348.1" r="6.8" fill="#151ffb"/>
<circle cx="1926.5" cy="354.3" r="6.8" fill="#1722fb"/>
<circle cx="1928.7" cy="327.0" r="6.8" fill="#1018fc"/>
<circle cx="1930.9" cy="337.9" r="6.8" fill="#131cfc"/>
<circle cx="1933.0" cy="351.8" r="6.8" fill="#1621fb"/>
<circle cx="1935.2" cy="345.0" r="6.8" fill="#141efb"/>
<circle cx="1937.4" cy="373.6" r="6.8" fill="#1b29fa"/>
<circle cx="1939.5" cy="519.2" r="6.8" fill="#3f5df4"/>
<circle cx="1941.7" cy="554.0" r="6.8" fill="#476af2"/>
<circle cx="1943.9" cy="518.0" r="6.8" fill="#3e5df4"/>
<circle cx="1946.0" cy="444.1" r="6.8" fill="#2c42f7"/>
<circle cx="1948.2" cy="455.9" r="6.8" fill="#2f46f6"/>
<circle cx="1950.4" cy="464.6" r="6.8" fill="#314af6"/>
<circle cx="1952.5" cy="455.9" r="6.8" fill="#2f46f6"/>
<circle cx="1954.7" cy="455.9" r="6.8" fill="#2f46f6"/>
<circle cx="1956.9" cy="383.5" r="6.8" fill="#1e2cfa"/>
<circle cx="1959.0" cy="389.1" r="6.8" fill="#1f2ef9"/>
<circle cx="1961.2" cy="368.9" r="6.8" fill="#1a27fa"/>
<circle cx="1963.4" cy="330.7" r="6.8" fill="#1119fc"/>
<circle cx="1965.5" cy="324.5" r="6.8" fill="#0f17fc"/>
<circle cx="1967.7" cy="351.2" r="6.8" fill="#1620fb"/>
<circle cx="1969.9" cy="330.7" r="6.8" fill="#1119fc"/>
<circle cx="1972.0" cy="293.4" r="6.8" fill="#080cfe"/>
<circle cx="1974.2" cy="307.1" r="6.8" fill="#0b11fd"/>
<circle cx="1976.3" cy="335.7" r="6.8" fill="#121bfc"/>
<circle cx="1978.5" cy="319.5" r="6.8" fill="#0e15fc"/>
<circle cx="1980.7" cy="299.7" r="6.8" fill="#090efd"/>
<circle cx="1982.8" cy="299.7" r="6.8" fill="#090efd"/>
<circle cx="1985.0" cy="351.2" r="6.8" fill="#1620fb"/>
<circle cx="1987.2" cy="330.7" r="6.8" fill="#1119fc"/>
<circle cx="1989.3" cy="340.0" r="6.8" fill="#131cfc"/>
<circle cx="1991.5" cy="406.6" r="6.8" fill="#2335f9"/>
<circle cx="1993.7" cy="389.7" r="6.8" fill="#1f2ef9"/>
<circle cx="1995.8" cy="358.7" r="6.8" fill="#1823fb"/>
<circle cx="1998.0" cy="344.4" r="6.8" fill="#141efb"/>
<circle cx="2000.2" cy="322.0" r="6.8" fill="#0f16fc"/>
<circle cx="2002.3" cy="315.2" r="6.8" fill="#0d13fd"/>
<circle cx="2004.5" cy="330.7" r="6.8" fill="#1119fc"/>
<circle cx="2006.7" cy="339.4" r="6.8" fill="#131cfc"/>
<circle cx="2008.8" cy="299.7" r="6.8" fill="#090efd"/>
<circle cx="2011.0" cy="315.8" r="6.8" fill="#0d14fd"/>
<circle cx="2013.2" cy="322.0" r="6.8" fill="#0f16fc"/>
<circle cx="2015.3" cy="359.9" r="6.8" fill="#1824fb"/>
<circle cx="2017.5" cy="338.2" r="6.8" fill="#131cfc"/>
<circle cx="2019.7" cy="296.6" r="6.8" fill="#090dfd"/>
<circle cx="2021.8" cy="296.6" r="6.8" fill="#090dfd"/>
<circle cx="2024.0" cy="310.2" r="6.8" fill="#0c12fd"/>
<circle cx="2026.2" cy="351.8" r="6.8" fill="#1621fb"/>
<circle cx="2028.3" cy="359.3" r="6.8" fill="#1823fb"/>
<circle cx="2030.5" cy="381.6" r="6.8" fill="#1d2cfa"/>
<circle cx="2032.7" cy="419.6" r="6.8" fill="#2639f8"/>
<circle cx="2034.8" cy="432.3" r="6.8" fill="#2a3ef8"/>
<circle cx="2037.0" cy="540.3" r="6.8" fill="#4465f3"/>
<circle cx="2039.1" cy="504.9" r="6.8" fill="#3b58f4"/>
<circle cx="2041.3" cy="503.1" r="6.8" fill="#3b57f4"/>
<circle cx="2043.5" cy="534.8" r="6.8" fill="#4263f3"/>
<circle cx="2045.6" cy="447.4" r="6.8" fill="#2d43f7"/>
<circle cx="2047.8" cy="395.7" r="6.8" fill="#2131f9"/>
<circle cx="2050.0" cy="346.9" r="6.8" fill="#151ffb"/>
<circle cx="2052.1" cy="321.4" r="6.8" fill="#0f16fc"/>
<circle cx="2054.3" cy="297.2" r="6.8" fill="#090dfd"/>
<circle cx="2056.5" cy="296.6" r="6.8" fill="#090dfd"/>
<circle cx="2058.6" cy="295.9" r="6.8" fill="#080cfd"/>
<circle cx="2060.8" cy="345.0" r="6.8" fill="#141efb"/>
<circle cx="2063.0" cy="377.3" r="6.8" fill="#1c2afa"/>
<circle cx="2065.1" cy="382.9" r="6.8" fill="#1e2cfa"/>
<circle cx="2067.3" cy="388.5" r="6.8" fill="#1f2ef9"/>
<circle cx="2069.5" cy="353.1" r="6.8" fill="#1621fb"/>
<circle cx="2071.6" cy="353.1" r="6.8" fill="#1621fb"/>
<circle cx="2073.8" cy="353.1" r="6.8" fill="#1621fb"/>
<circle cx="2076.0" cy="339.4" r="6.8" fill="#131cfc"/>
<circle cx="2078.1" cy="345.6" r="6.8" fill="#141efb"/>
<circle cx="2080.3" cy="356.8" r="6.8" fill="#1723fb"/>
<circle cx="2082.5" cy="366.1" r="6.8" fill="#1926fa"/>
<circle cx="2084.6" cy="386.6" r="6.8" fill="#1e2dfa"/>
<circle cx="2086.8" cy="384.4" r="6.8" fill="#1e2dfa"/>
<circle cx="2089.0" cy="382.3" r="6.8" fill="#1d2cfa"/>
<circle cx="2091.1" cy="357.4" r="6.8" fill="#1723fb"/>
<circle cx="2093.3" cy="368.0" r="6.8" fill="#1a27fa"/>
<circle cx="2095.5" cy="399.7" r="6.8" fill="#2232f9"/>
<circle cx="2097.6" cy="366.1" r="6.8" fill="#1926fa"/>
<circle cx="2099.8" cy="326.4" r="6.8" fill="#1017fc"/>
<circle cx="2101.9" cy="326.4" r="6.8" fill="#1017fc"/>
<circle cx="2104.1" cy="309.6" r="6.8" fill="#0c11fd"/>
<circle cx="2106.3" cy="307.1" r="6.8" fill="#0b11fd"/>
<circle cx="2108.4" cy="304.6" r="6.8" fill="#0a10fd"/>
<circle cx="2110.6" cy="304.6" r="6.8" fill="#0a10fd"/>
<circle cx="2112.8" cy="323.9" r="6.8" fill="#0f17fc"/>
<circle cx="2114.9" cy="308.4" r="6.8" fill="#0b11fd"/>
<circle cx="2117.1" cy="318.9" r="6.8" fill="#0e15fc"/>
<circle cx="2119.3" cy="350.6" r="6.8" fill="#1620fb"/>
<circle cx="2121.4" cy="331.3" r="6.8" fill="#1119fc"/>
<circle cx="2123.6" cy="345.0" r="6.8" fill="#141efb"/>
<circle cx="2125.8" cy="354.9" r="6.8" fill="#1722fb"/>
<circle cx="2127.9" cy="334.4" r="6.8" fill="#121afc"/>
<circle cx="2130.1" cy="334.1" r="6.8" fill="#121afc"/>
<circle cx="2132.3" cy="333.8" r="6.8" fill="#121afc"/>
<circle cx="2134.4" cy="327.0" r="6.8" fill="#1018fc"/>
<circle cx="2136.6" cy="305.0" r="6.8" fill="#0b10fd"/>
<circle cx="2138.8" cy="291.0" r="6.8" fill="#070bfe"/>
<circle cx="2140.9" cy="290.3" r="6.8" fill="#070afe"/>
<circle cx="2143.1" cy="290.0" r="6.8" fill="#070afe"/>
<circle cx="2145.3" cy="289.7" r="6.8" fill="#070afe"/>
<circle cx="2147.4" cy="288.8" r="6.8" fill="#070afe"/>
<circle cx="2149.6" cy="287.9" r="6.8" fill="#060afe"/>
<circle cx="2151.8" cy="304.6" r="6.8" fill="#0a10fd"/>
<circle cx="2153.9" cy="310.2" r="6.8" fill="#0c12fd"/>
<circle cx="2156.1" cy="305.2" r="6.8" fill="#0b10fd"/>
<circle cx="2158.3" cy="331.3" r="6.8" fill="#1119fc"/>
<circle cx="2160.4" cy="341.3" r="6.8" fill="#131dfc"/>
<circle cx="2162.6" cy="344.4" r="6.8" fill="#141efb"/>
<circle cx="2164.7" cy="358.3" r="6.8" fill="#1823fb"/>
<circle cx="2166.9" cy="406.8" r="6.8" fill="#2335f9"/>
<circle cx="2169.1" cy="421.1" r="6.8" fill="#273af8"/>
<circle cx="2171.2" cy="404.0" r="6.8" fill="#2334f9"/>
<circle cx="2173.4" cy="414.9" r="6.8" fill="#2538f8"/>
<circle cx="2175.6" cy="414.9" r="6.8" fill="#2538f8"/>
<circle cx="2177.7" cy="399.0" r="6.8" fill="#2132f9"/>
<circle cx="2179.9" cy="432.3" r="6.8" fill="#2a3ef8"/>
<circle cx="2182.1" cy="370.8" r="6.8" fill="#1b28fa"/>
<circle cx="2184.2" cy="411.1" r="6.8" fill="#2436f8"/>
<circle cx="2186.4" cy="392.2" r="6.8" fill="#202ff9"/>
<circle cx="2188.6" cy="358.0" r="6.8" fill="#1723fb"/>
<circle cx="2190.7" cy="358.0" r="6.8" fill="#1723fb"/>
<circle cx="2192.9" cy="396.6" r="6.8" fill="#2131f9"/>
<circle cx="2195.1" cy="364.0" r="6.8" fill="#1925fb"/>
<circle cx="2197.2" cy="333.8" r="6.8" fill="#121afc"/>
<circle cx="2199.4" cy="340.7" r="6.8" fill="#131dfc"/>
<circle cx="2201.6" cy="336.3" r="6.8" fill="#121bfc"/>
<circle cx="2203.7" cy="332.0" r="6.8" fill="#111afc"/>
<circle cx="2205.9" cy="327.9" r="6.8" fill="#1018fc"/>
<circle cx="2208.1" cy="323.9" r="6.8" fill="#0f17fc"/>
<circle cx="2210.2" cy="350.6" r="6.8" fill="#1620fb"/>
<circle cx="2212.4" cy="327.6" r="6.8" fill="#1018fc"/>
<circle cx="2214.6" cy="346.2" r="6.8" fill="#151ffb"/>
<circle cx="2216.7" cy="342.5" r="6.8" fill="#141dfb"/>
<circle cx="2218.9" cy="362.4" r="6.8" fill="#1925fb"/>
<circle cx="2221.1" cy="376.9" r="6.8" fill="#1c2afa"/>
<circle cx="2223.2" cy="437.9" r="6.8" fill="#2b40f7"/>
<circle cx="2225.4" cy="505.6" r="6.8" fill="#3b58f4"/>
<circle cx="2227.5" cy="575.6" r="6.8" fill="#4c72f1"/>
<circle cx="2229.7" cy="645.6" r="6.8" fill="#5d8bee"/>
<circle cx="2231.9" cy="654.3" r="6.8" fill="#5f8eee"/>
<circle cx="2234.0" cy="694.6" r="6.8" fill="#6c9be1"/>
<circle cx="2236.2" cy="691.6" r="6.8" fill="#6b9ae2"/>
<circle cx="2238.4" cy="523.0" r="6.8" fill="#405ff4"/>
<circle cx="2240.5" cy="468.0" r="6.8" fill="#324bf6"/>
<circle cx="2242.7" cy="432.0" r="6.8" fill="#293ef8"/>
<circle cx="2244.9" cy="378.9" r="6.8" fill="#1d2bfa"/>
<circle cx="2247.0" cy="337.2" r="6.8" fill="#121bfc"/>
<circle cx="2249.2" cy="356.2" r="6.8" fill="#1722fb"/>
<circle cx="2251.4" cy="356.2" r="6.8" fill="#1722fb"/>
<circle cx="2253.5" cy="304.6" r="6.8" fill="#0a10fd"/>
<circle cx="2255.7" cy="312.7" r="6.8" fill="#0c13fd"/>
<circle cx="2257.9" cy="329.5" r="6.8" fill="#1119fc"/>
<circle cx="2260.0" cy="333.8" r="6.8" fill="#121afc"/>
<circle cx="2262.2" cy="366.5" r="6.8" fill="#1a26fa"/>
<circle cx="2264.4" cy="333.2" r="6.8" fill="#111afc"/>
<circle cx="2266.5" cy="381.4" r="6.8" fill="#1d2bfa"/>
<circle cx="2268.7" cy="353.1" r="6.8" fill="#1621fb"/>
<circle cx="2270.9" cy="318.9" r="6.8" fill="#0e15fc"/>
<circle cx="2273.0" cy="333.2" r="6.8" fill="#111afc"/>
<circle cx="2275.2" cy="328.2" r="6.8" fill="#1018fc"/>
<circle cx="2277.4" cy="320.8" r="6.8" fill="#0e15fc"/>
<circle cx="2279.5" cy="356.8" r="6.8" fill="#1723fb"/>
<circle cx="2281.7" cy="342.5" r="6.8" fill="#141dfb"/>
<circle cx="2283.9" cy="324.5" r="6.8" fill="#0f17fc"/>
<circle cx="2286.0" cy="350.0" r="6.8" fill="#1620fb"/>
<circle cx="2288.2" cy="375.2" r="6.8" fill="#1c29fa"/>
<circle cx="2290.3" cy="385.4" r="6.8" fill="#1e2dfa"/>
<circle cx="2292.5" cy="391.0" r="6.8" fill="#1f2ff9"/>
<circle cx="2294.7" cy="441.0" r="6.8" fill="#2c41f7"/>
<circle cx="2296.8" cy="496.9" r="6.8" fill="#3955f5"/>
<circle cx="2299.0" cy="521.5" r="6.8" fill="#3f5ef4"/>
<circle cx="2301.2" cy="672.2" r="6.8" fill="#6495ed"/>
<circle cx="2303.3" cy="962.5" r="6.8" fill="#d1e046"/>
<circle cx="2305.5" cy="1206.0" r="6.8" fill="#ffe400"/>
<circle cx="2307.7" cy="1287.0" r="6.8" fill="#ffd300"/>
<circle cx="2309.8" cy="1333.9" r="6.8" fill="#ffc800"/>
<circle cx="2312.0" cy="1384.2" r="6.8" fill="#ffbd00"/>
<circle cx="2314.2" cy="1444.5" r="6.8" fill="#ffb000"/>
<circle cx="2316.3" cy="1499.8" r="6.8" fill="#ffa300"/>
<circle cx="2318.5" cy="1421.5" r="6.8" fill="#ffb500"/>
<circle cx="2320.7" cy="1448.0" r="6.8" fill="#ffaf00"/>
<circle cx="2322.8" cy="1419.6" r="6.8" fill="#ffb600"/>
<circle cx="2325.0" cy="1433.9" r="6.8" fill="#ffb300"/>
<circle cx="2327.2" cy="1477.6" r="6.8" fill="#ffa900"/>
<circle cx="2329.3" cy="1477.6" r="6.8" fill="#ffa900"/>
<circle cx="2331.5" cy="1499.8" r="6.8" fill="#ffa300"/>
<circle cx="2333.7" cy="1420.5" r="6.8" fill="#ffb500"/>
<circle cx="2335.8" cy="1437.0" r="6.8" fill="#ffb200"/>
<circle cx="2338.0" cy="1469.3" r="6.8" fill="#ffab00"/>
<circle cx="2340.2" cy="1464.7" r="6.8" fill="#ffac00"/>
<circle cx="2342.3" cy="1439.5" r="6.8" fill="#ffb100"/>
<circle cx="2344.5" cy="1372.4" r="6.8" fill="#ffc000"/>
<circle cx="2346.6" cy="1400.4" r="6.8" fill="#ffba00"/>
<circle cx="2348.8" cy="1385.2" r="6.8" fill="#ffbd00"/>
<circle cx="2351.0" cy="1371.4" r="6.8" fill="#ffc000"/>
<circle cx="2353.1" cy="1343.2" r="6.8" fill="#ffc600"/>
<circle cx="2355.3" cy="1413.7" r="6.8" fill="#ffb700"/>
<circle cx="2357.5" cy="1436.1" r="6.8" fill="#ffb200"/>
<circle cx="2359.6" cy="1422.4" r="6.8" fill="#ffb500"/>
<circle cx="2361.8" cy="1448.4" r="6.8" fill="#ffaf00"/>
<circle cx="2364.0" cy="1452.5" r="6.8" fill="#ffae00"/>
<circle cx="2366.1" cy="1405.0" r="6.8" fill="#ffb900"/>
<circle cx="2368.3" cy="1318.1" r="6.8" fill="#ffcc00"/>
<circle cx="2370.5" cy="1352.9" r="6.8" fill="#ffc400"/>
<circle cx="2372.6" cy="1387.3" r="6.8" fill="#ffbd00"/>
<circle cx="2374.8" cy="1351.0" r="6.8" fill="#ffc500"/>
<circle cx="2377.0" cy="1371.2" r="6.8" fill="#ffc000"/>
<circle cx="2379.1" cy="1389.2" r="6.8" fill="#ffbc00"/>
<circle cx="2381.3" cy="1427.1" r="6.8" fill="#ffb400"/>
<circle cx="2383.5" cy="1455.7" r="6.8" fill="#ffae00"/>
<circle cx="2385.6" cy="1440.5" r="6.8" fill="#ffb100"/>
<circle cx="2387.8" cy="1423.6" r="6.8" fill="#ffb500"/>
<circle cx="2390.0" cy="1456.9" r="6.8" fill="#ffae00"/>
<circle cx="2392.1" cy="1509.7" r="6.8" fill="#ff9f00"/>
<circle cx="2394.3" cy="1472.4" r="6.8" fill="#ffaa00"/>
<circle cx="2396.5" cy="1506.0" r="6.8" fill="#ffa100"/>
<circle cx="2398.6" cy="1510.9" r="6.8" fill="#ff9f00"/>
<circle cx="2400.8" cy="1530.6" r="6.8" fill="#ff9700"/>
<circle cx="2403.0" cy="1539.5" r="6.8" fill="#ff9300"/>
<circle cx="2405.1" cy="1536.4" r="6.8" fill="#ff9500"/>
<circle cx="2407.3" cy="1492.0" r="6.8" fill="#ffa600"/>
<circle cx="2409.4" cy="1520.0" r="6.8" fill="#ff9b00"/>
<circle cx="2411.6" cy="1514.0" r="6.8" fill="#ff9e00"/>
<circle cx="2413.8" cy="1514.0" r="6.8" fill="#ff9e00"/>
<circle cx="2415.9" cy="1450.7" r="6.8" fill="#ffaf00"/>
<circle cx="2418.1" cy="1514.7" r="6.8" fill="#ff9d00"/>
<circle cx="2420.3" cy="1443.5" r="6.8" fill="#ffb000"/>
<circle cx="2422.4" cy="1452.5" r="6.8" fill="#ffae00"/>
<circle cx="2424.6" cy="1432.4" r="6.8" fill="#ffb300"/>
<circle cx="2426.8" cy="1428.7" r="6.8" fill="#ffb400"/>
<circle cx="2428.9" cy="1401.4" r="6.8" fill="#ffba00"/>
<circle cx="2431.1" cy="1412.8" r="6.8" fill="#ffb700"/>
<circle cx="2433.3" cy="1330.9" r="6.8" fill="#ffc900"/>
<circle cx="2435.4" cy="1351.0" r="6.8" fill="#ffc500"/>
<circle cx="2437.6" cy="1264.0" r="6.8" fill="#ffd800"/>
<circle cx="2439.8" cy="1279.2" r="6.8" fill="#ffd400"/>
<circle cx="2441.9" cy="1234.8" r="6.8" fill="#ffde00"/>
<circle cx="2444.1" cy="1238.6" r="6.8" fill="#ffdd00"/>
<circle cx="2446.3" cy="1214.3" r="6.8" fill="#ffe300"/>
<circle cx="2448.4" cy="1189.8" r="6.8" fill="#ffe800"/>
<circle cx="2450.6" cy="1145.7" r="6.8" fill="#fff200"/>
<circle cx="2452.8" cy="1190.4" r="6.8" fill="#ffe800"/>
<circle cx="2454.9" cy="1247.5" r="6.8" fill="#ffdb00"/>
<circle cx="2457.1" cy="1148.4" r="6.8" fill="#fff100"/>
<circle cx="2459.3" cy="1106.0" r="6.8" fill="#fffa00"/>
<circle cx="2461.4" cy="1144.5" r="6.8" fill="#fff200"/>
<circle cx="2463.6" cy="1148.4" r="6.8" fill="#fff100"/>
<circle cx="2465.8" cy="1136.6" r="6.8" fill="#fff400"/>
<circle cx="2467.9" cy="1192.3" r="6.8" fill="#ffe700"/>
<circle cx="2470.1" cy="1209.7" r="6.8" fill="#ffe400"/>
<circle cx="2472.2" cy="1212.8" r="6.8" fill="#ffe300"/>
<circle cx="2474.4" cy="1201.9" r="6.8" fill="#ffe500"/>
<circle cx="2476.6" cy="1277.1" r="6.8" fill="#ffd500"/>
<circle cx="2478.7" cy="1271.5" r="6.8" fill="#ffd600"/>
<circle cx="2480.9" cy="1278.9" r="6.8" fill="#ffd400"/>
<circle cx="2483.1" cy="1350.4" r="6.8" fill="#ffc500"/>
<circle cx="2485.2" cy="1373.9" r="6.8" fill="#ffc000"/>
<circle cx="2487.4" cy="1318.7" r="6.8" fill="#ffcc00"/>
<circle cx="2489.6" cy="1333.4" r="6.8" fill="#ffc900"/>
<circle cx="2491.7" cy="1322.4" r="6.8" fill="#ffcb00"/>
<circle cx="2493.9" cy="1383.6" r="6.8" fill="#ffbe00"/>
<circle cx="2496.1" cy="1309.0" r="6.8" fill="#ffce00"/>
<circle cx="2498.2" cy="1409.1" r="6.8" fill="#ffb800"/>
<circle cx="2500.4" cy="1326.8" r="6.8" fill="#ffca00"/>
<circle cx="2502.6" cy="1367.8" r="6.8" fill="#ffc100"/>
<circle cx="2504.7" cy="1343.9" r="6.8" fill="#ffc600"/>
<circle cx="2506.9" cy="1275.8" r="6.8" fill="#ffd500"/>
<circle cx="2509.1" cy="1424.0" r="6.8" fill="#ffb500"/>
<circle cx="2511.2" cy="1267.8" r="6.8" fill="#ffd700"/>
<circle cx="2513.4" cy="1396.6" r="6.8" fill="#ffbb00"/>
<circle cx="2515.6" cy="1369.0" r="6.8" fill="#ffc100"/>
<circle cx="2517.7" cy="1454.7" r="6.8" fill="#ffae00"/>
<circle cx="2519.9" cy="1240.2" r="6.8" fill="#ffdd00"/>
<circle cx="2522.1" cy="1367.8" r="6.8" fill="#ffc100"/>
<circle cx="2524.2" cy="1392.3" r="6.8" fill="#ffbc00"/>
<circle cx="2526.4" cy="1357.2" r="6.8" fill="#ffc300"/>
<circle cx="2528.6" cy="1366.5" r="6.8" fill="#ffc100"/>
<circle cx="2530.7" cy="1399.1" r="6.8" fill="#ffba00"/>
<circle cx="2532.9" cy="1090.2" r="6.8" fill="#fffe00"/>
<circle cx="2535.0" cy="1310.0" r="6.8" fill="#ffce00"/>
<circle cx="2537.2" cy="1315.0" r="6.8" fill="#ffcd00"/>
<circle cx="2539.4" cy="1319.9" r="6.8" fill="#ffcb00"/>
<circle cx="2541.5" cy="1350.4" r="6.8" fill="#ffc500"/>
<circle cx="2543.7" cy="1336.7" r="6.8" fill="#ffc800"/>
<circle cx="2545.9" cy="1404.1" r="6.8" fill="#ffb900"/>
<circle cx="2548.0" cy="1316.2" r="6.8" fill="#ffcc00"/>
<circle cx="2550.2" cy="1350.4" r="6.8" fill="#ffc500"/>
<circle cx="2552.4" cy="1374.7" r="6.8" fill="#ffc000"/>
<circle cx="2554.5" cy="1339.8" r="6.8" fill="#ffc700"/>
<circle cx="2556.7" cy="1384.2" r="6.8" fill="#ffbd00"/>
<circle cx="2558.9" cy="1173.7" r="6.8" fill="#ffeb00"/>
<circle cx="2561.0" cy="1177.4" r="6.8" fill="#ffeb00"/>
<circle cx="2563.2" cy="1347.9" r="6.8" fill="#ffc500"/>
<circle cx="2565.4" cy="1327.1" r="6.8" fill="#ffca00"/>
<circle cx="2567.5" cy="1401.2" r="6.8" fill="#ffba00"/>
<circle cx="2569.7" cy="1310.0" r="6.8" fill="#ffce00"/>
<circle cx="2571.9" cy="1351.0" r="6.8" fill="#ffc500"/>
<circle cx="2574.0" cy="1345.4" r="6.8" fill="#ffc600"/>
<circle cx="2576.2" cy="1249.8" r="6.8" fill="#ffdb00"/>
<circle cx="2578.4" cy="1304.7" r="6.8" fill="#ffcf00"/>
<circle cx="2580.5" cy="1228.3" r="6.8" fill="#ffe000"/>
</g>
<rect x="450.6" y="216.4" width="2232.0" height="1386.0" fill="none" stroke="#000" stroke-width="3.3"/>
<line x1="551.6" y1="1602.4" x2="551.6" y2="1617.2" stroke="#000" stroke-width="3.3"/>
<text class="t" x="551.6" y="1662.2" text-anchor="middle">0</text>
<line x1="768.1" y1="1602.4" x2="768.1" y2="1617.2" stroke="#000" stroke-width="3.3"/>
<text class="t" x="768.1" y="1662.2" text-anchor="middle">100</text>
<line x1="984.7" y1="1602.4" x2="984.7" y2="1617.2" stroke="#000" stroke-width="3.3"/>
<text class="t" x="984.7" y="1662.2" text-anchor="middle">200</text>
<line x1="1201.2" y1="1602.4" x2="1201.2" y2="1617.2" stroke="#000" stroke-width="3.3"/>
<text class="t" x="1201.2" y="1662.2" text-anchor="middle">300</text>
<line x1="1417.8" y1="1602.4" x2="1417.8" y2="1617.2" stroke="#000" stroke-width="3.3"/>
<text class="t" x="1417.8" y="1662.2" text-anchor="middle">400</text>
<line x1="1634.3" y1="1602.4" x2="1634.3" y2="1617.2" stroke="#000" stroke-width="3.3"/>
<text class="t" x="1634.3" y="1662.2" text-anchor="middle">500</text>
<line x1="1850.9" y1="1602.4" x2="1850.9" y2="1617.2" stroke="#000" stroke-width="3.3"/>
<text class="t" x="1850.9" y="1662.2" text-anchor="middle">600</text>
<line x1="2067.4" y1="1602.4" x2="2067.4" y2="1617.2" stroke="#000" stroke-width="3.3"/>
<text class="t" x="2067.4" y="1662.2" text-anchor="middle">700</text>
<line x1="2284.0" y1="1602.4" x2="2284.0" y2="1617.2" stroke="#000" stroke-width="3.3"/>
<text class="t" x="2284.0" y="1662.2" text-anchor="middle">800</text>
<line x1="2500.5" y1="1602.4" x2="2500.5" y2="1617.2" stroke="#000" stroke-width="3.3"/>
<text class="t" x="2500.5" y="1662.2" text-anchor="middle">900</text>
<line x1="450.6" y1="1578.1" x2="435.6" y2="1578.1" stroke="#000" stroke-width="3.3"/>
<text class="t" x="420.7" y="1592.7" text-anchor="end">20</text>
<line x1="450.6" y1="1413.5" x2="435.6" y2="1413.5" stroke="#000" stroke-width="3.3"/>
<text class="t" x="420.7" y="1428.1" text-anchor="end">30</text>
<line x1="450.6" y1="1248.9" x2="435.6" y2="1248.9" stroke="#000" stroke-width="3.3"/>
<text class="t" x="420.7" y="1263.5" text-anchor="end">40</text>
<line x1="450.6" y1="1084.4" x2="435.6" y2="1084.4" stroke="#000" stroke-width="3.3"/>
<text class="t" x="420.7" y="1099.0" text-anchor="end">50</text>
<line x1="450.6" y1="919.8" x2="435.6" y2="919.8" stroke="#000" stroke-width="3.3"/>
<text class="t" x="420.7" y="934.4" text-anchor="end">60</text>
<line x1="450.6" y1="755.2" x2="435.6" y2="755.2" stroke="#000" stroke-width="3.3"/>
<text class="t" x="420.7" y="769.8" text-anchor="end">70</text>
<line x1="450.6" y1="590.6" x2="435.6" y2="590.6" stroke="#000" stroke-width="3.3"/>
<text class="t" x="420.7" y="605.2" text-anchor="end">80</text>
<line x1="450.6" y1="426.1" x2="435.6" y2="426.1" stroke="#000" stroke-width="3.3"/>
<text class="t" x="420.7" y="440.7" text-anchor="end">90</text>
<line x1="450.6" y1="261.5" x2="435.6" y2="261.5" stroke="#000" stroke-width="3.3"/>
<text class="t" x="420.7" y="276.1" text-anchor="end">100</text>
<text class="b" font-size="58.33" x="1566.6" y="1733.3" text-anchor="middle">Residue index</text>
<text class="b" font-size="58.33" transform="translate(312.5,909) rotate(-90)" text-anchor="middle">Predicted LDDT</text>
<rect x="2822.6" y="563.5" width="34.0" height="692.8" fill="url(#g)" stroke="#000" stroke-width="3.3"/>
<line x1="2856.6" y1="1256.3" x2="2871.2" y2="1256.3" stroke="#000" stroke-width="3.3"/>
<text class="t" x="2885.8" y="1270.5">0</text>
<line x1="2856.6" y1="1117.7" x2="2871.2" y2="1117.7" stroke="#000" stroke-width="3.3"/>
<text class="t" x="2885.8" y="1131.9">20</text>
<line x1="2856.6" y1="979.2" x2="2871.2" y2="979.2" stroke="#000" stroke-width="3.3"/>
<text class="t" x="2885.8" y="993.4">40</text>
<line x1="2856.6" y1="840.6" x2="2871.2" y2="840.6" stroke="#000" stroke-width="3.3"/>
<text class="t" x="2885.8" y="854.8">60</text>
<line x1="2856.6" y1="702.1" x2="2871.2" y2="702.1" stroke="#000" stroke-width="3.3"/>
<text class="t" x="2885.8" y="716.3">80</text>
<line x1="2856.6" y1="563.5" x2="2871.2" y2="563.5" stroke="#000" stroke-width="3.3"/>
<text class="t" x="2885.8" y="576.7">100</text>
<text class="b" font-size="50" transform="translate(3019,909) rotate(-90)" text-anchor="middle">Predicted LDDT</text>
</svg></body></html>
